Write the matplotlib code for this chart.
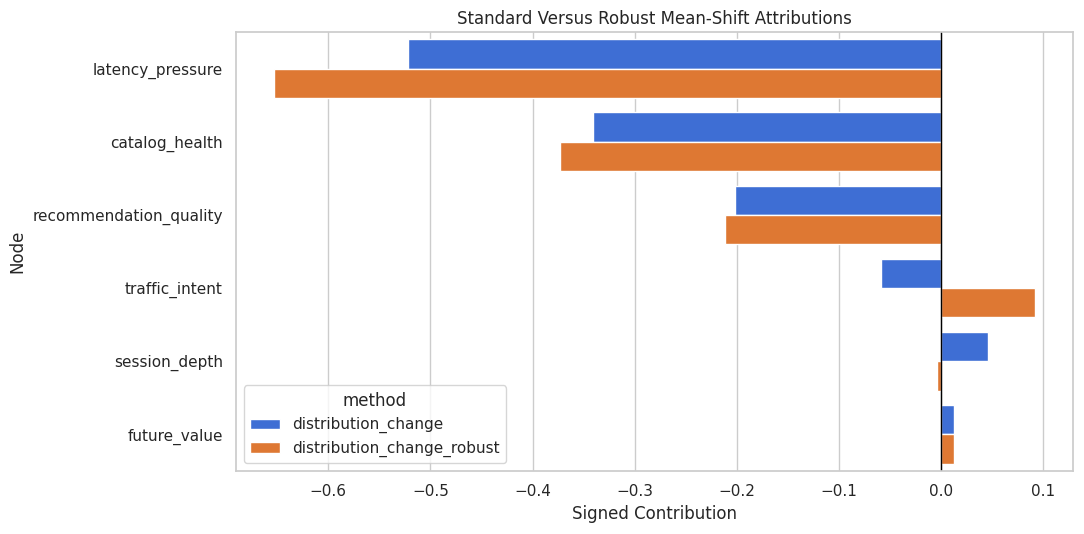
import matplotlib
matplotlib.use("Agg")
import matplotlib.pyplot as plt
import pandas as pd
import seaborn as sns

nodes = ["latency_pressure", "catalog_health", "recommendation_quality",
         "traffic_intent", "session_depth", "future_value"]
standard = [-0.522, -0.341, -0.202, -0.0585, 0.0457, 0.0121]
robust = [-0.653, -0.373, -0.212, 0.0918, -0.004, 0.0121]
methods = ["distribution_change", "distribution_change_robust"]

df = pd.DataFrame({
    "node": nodes * 2,
    "value": standard + robust,
    "method": [methods[0]] * len(nodes) + [methods[1]] * len(nodes),
})

sns.set_theme(style="whitegrid")

fig, ax = plt.subplots(figsize=(10.84, 5.34), dpi=100)
sns.barplot(data=df, y="node", x="value", hue="method", orient="h",
            palette=["#3E6ED4", "#DE7833"], saturation=1, ax=ax)
ax.axvline(0, color="black", linewidth=1)
ax.set_title("Standard Versus Robust Mean-Shift Attributions")
ax.set_xlabel("Signed Contribution")
ax.set_ylabel("Node")
ax.legend(title="method", loc="lower left")

fig.subplots_adjust(left=236 / 1084, right=1073 / 1084, top=1 - 32 / 534, bottom=1 - 471 / 534)
fig.savefig("out.png", dpi=100)
